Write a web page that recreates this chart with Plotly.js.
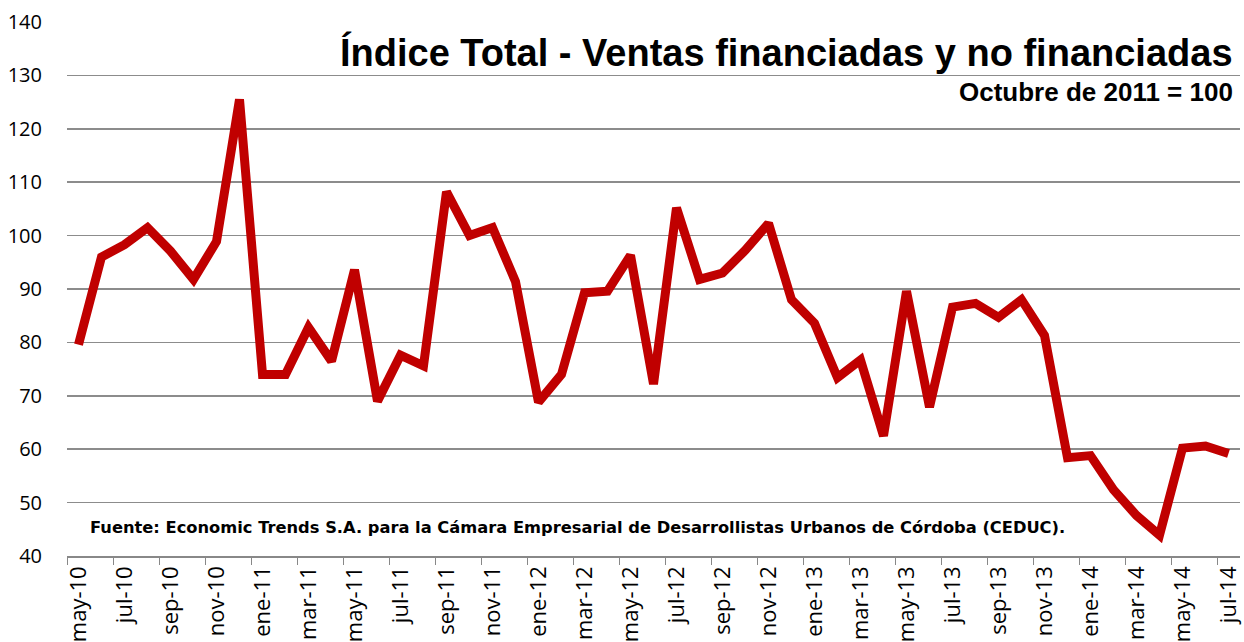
<!DOCTYPE html>
<html>
<head>
<meta charset="utf-8">
<script src="https://cdn.plot.ly/plotly-3.0.1.min.js"></script>
<style>html,body{margin:0;padding:0;background:#fff;}#chart{width:1244px;height:642px;}</style>
</head>
<body>
<div id="chart"></div>
<script>
const months = [
  "may-10","jun-10","jul-10","ago-10","sep-10","oct-10","nov-10","dic-10",
  "ene-11","feb-11","mar-11","abr-11","may-11","jun-11","jul-11","ago-11","sep-11","oct-11","nov-11","dic-11",
  "ene-12","feb-12","mar-12","abr-12","may-12","jun-12","jul-12","ago-12","sep-12","oct-12","nov-12","dic-12",
  "ene-13","feb-13","mar-13","abr-13","may-13","jun-13","jul-13","ago-13","sep-13","oct-13","nov-13","dic-13",
  "ene-14","feb-14","mar-14","abr-14","may-14","jun-14","jul-14"
];
const indexValues = [
  79.6, 96.0, 98.3, 101.5, 97.1, 91.8, 98.9, 125.5,
  74.0, 74.0, 82.8, 76.5, 93.6, 69.0, 77.6, 75.6, 108.2, 100.0, 101.5, 91.4,
  68.8, 74.0, 89.3, 89.6, 96.3, 72.2, 105.2, 91.8, 93.0, 97.3, 102.3, 88.0,
  83.6, 73.4, 76.7, 62.5, 89.6, 67.9, 86.6, 87.3, 84.7, 88.0, 81.3, 58.4,
  58.8, 52.4, 47.6, 43.9, 60.2, 60.6, 59.2
];
const yTickVals = [40,50,60,70,80,90,100,110,120,130,140];
const titleText = "Índice Total - Ventas financiadas y no financiadas";
const subtitleText = "Octubre de 2011 = 100";
const sourceText = "Fuente: Economic Trends S.A. para la Cámara Empresarial de Desarrollistas Urbanos de Córdoba (CEDUC).";

const trace = {
  type: "scatter",
  mode: "lines",
  x: months,
  y: indexValues,
  line: {color: "#C00000", width: 9, shape: "linear"},
  hoverinfo: "x+y"
};

const layout = {
  width: 1244, height: 642,
  margin: {l: 67, r: 4, t: 22, b: 86},
  paper_bgcolor: "#ffffff", plot_bgcolor: "#ffffff",
  showlegend: false,
  font: {family: "Liberation Sans, Arial, sans-serif", color: "#000"},
  xaxis: {
    type: "category",
    range: [-0.5, months.length - 0.5],
    tickmode: "linear", tick0: 0, dtick: 2,
    tickson: "boundaries",
    ticks: "outside", ticklen: 7, tickcolor: "#888", tickwidth: 1,
    tickangle: -90,
    tickfont: {size: 22, family: "Open Sans, Liberation Sans, sans-serif", color: "#000"},
    showgrid: false,
    showline: true, linecolor: "#888", linewidth: 1.5,
    zeroline: false, fixedrange: true, automargin: false
  },
  yaxis: {
    range: [40, 140],
    tickmode: "array", tickvals: yTickVals,
    ticktext: yTickVals.map(String),
    tickfont: {size: 20, family: "Open Sans, Liberation Sans, sans-serif", color: "#000"},
    showgrid: true, gridcolor: "#8c8c8c", gridwidth: 1.5,
    showline: false, zeroline: false,
    ticks: "outside", ticklen: 20, tickcolor: "rgba(0,0,0,0)",
    fixedrange: true, automargin: false
  },
  annotations: [
    {xref: "paper", yref: "paper", x: 0.9957, y: 0.942, xanchor: "right", yanchor: "middle",
     text: "<b>" + titleText + "</b>", showarrow: false,
     font: {size: 38, family: "Liberation Sans, Arial, sans-serif", color: "#000"}},
    {xref: "paper", yref: "paper", x: 0.9957, y: 0.868, xanchor: "right", yanchor: "middle",
     text: "<b>" + subtitleText + "</b>", showarrow: false,
     font: {size: 26, family: "Liberation Sans, Arial, sans-serif", color: "#000"}},
    {xref: "paper", yref: "paper", x: 0.018, y: 0.054, xanchor: "left", yanchor: "middle",
     text: "<b>" + sourceText + "</b>", showarrow: false,
     font: {size: 16.3, family: "DejaVu Sans, Liberation Sans, sans-serif", color: "#000"}}
  ]
};

Plotly.newPlot("chart", [trace], layout, {displayModeBar: false, staticPlot: true});
</script>
</body>
</html>
